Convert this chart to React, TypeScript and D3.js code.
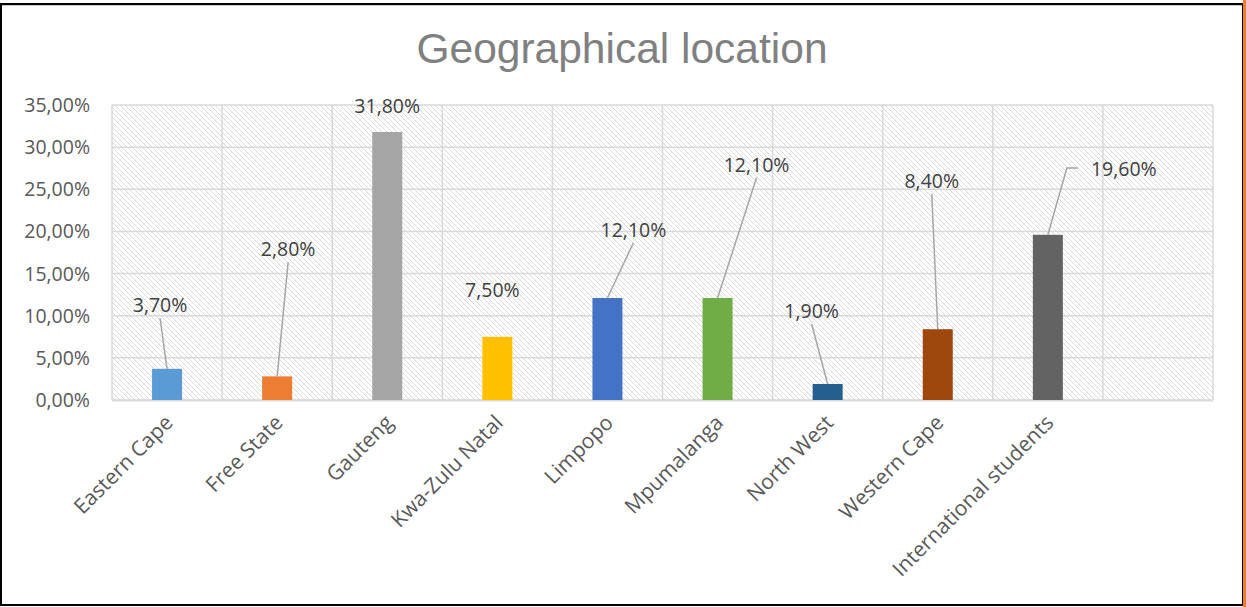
import React from "react";
import * as d3 from "d3";

const categories = [
  "Eastern Cape",
  "Free State",
  "Gauteng",
  "Kwa-Zulu Natal",
  "Limpopo",
  "Mpumalanga",
  "North West",
  "Western Cape",
  "International students",
  "",
];
const values = [3.7, 2.8, 31.8, 7.5, 12.1, 12.1, 1.9, 8.4, 19.6, null];
const valueLabels = ["3,70%", "2,80%", "31,80%", "7,50%", "12,10%", "12,10%", "1,90%", "8,40%", "19,60%", ""];
const yTicks = [0, 5, 10, 15, 20, 25, 30, 35];
const yTickLabels = ["0,00%", "5,00%", "10,00%", "15,00%", "20,00%", "25,00%", "30,00%", "35,00%"];
const barColors = ["#5B9BD5", "#ED7D31", "#A5A5A5", "#FFC000", "#4472C4", "#70AD47", "#255E91", "#9E480E", "#636363", "#999"];
const title = "Geographical location";

// label layout: position (value units) and x offset (px), leader style
const labelPosValue = [11.27, 17.9, 34.9, 13.05, 20.2, 27.9, 10.56, 26.0, 27.4];
const labelDx = [-7, 11, 0, -5, 26, 39, -16, -6, 76];
const leaderType = ["line", "line", "none", "none", "line", "line", "line", "line", "elbow"];

const W = 1246;
const H = 607;
const M = { left: 112, right: 1213, top: 105, bottom: 400 };
const FONT = "'Open Sans', 'Liberation Sans', sans-serif";
const TITLE_FONT = "'Liberation Sans', Arial, sans-serif";

export default function App() {
  const keys = categories.map((c, i) => c + "#" + i);
  const x = d3.scaleBand<string>().domain(keys).range([M.left, M.right]).padding(0);
  const y = d3.scaleLinear().domain([0, 35]).range([M.bottom, M.top]);
  const bw = 30;
  const cx = (i: number) => (x(keys[i]) as number) + x.bandwidth() / 2;

  return (
    <svg width={W} height={H} style={{ position: "absolute", left: 0, top: 0, display: "block" }}>
      <defs>
        <pattern id="diag" patternUnits="userSpaceOnUse" width="5" height="5">
          <rect width="5" height="5" fill="#ffffff" />
          <path d="M-1,-1 L6,6 M-1,4 L1,6 M4,-1 L6,1" stroke="#d6d6d6" strokeWidth="0.9" />
        </pattern>
      </defs>
      <rect x={0} y={0} width={W} height={H} fill="#fff" />
      {/* outer frame */}
      <rect x={1} y={4} width={1242} height={601} fill="none" stroke="#000" strokeWidth={2} />
      <line x1={2} x2={1242} y1={5.5} y2={5.5} stroke="#c8c8c8" strokeWidth={1} />
      <line x1={1244.5} x2={1244.5} y1={0} y2={H} stroke="#ED7D31" strokeWidth={3} />

      <text x={622} y={63} textAnchor="middle" fontFamily={TITLE_FONT} fontSize={42.5} fill="#808080">
        {title}
      </text>

      {/* plot background */}
      <rect x={M.left} y={M.top} width={M.right - M.left} height={M.bottom - M.top} fill="url(#diag)" />
      {/* horizontal grid */}
      {yTicks.map((t) => (
        <line key={"h" + t} x1={M.left} x2={M.right} y1={y(t)} y2={y(t)} stroke="#d9d9d9" strokeWidth={1.5} />
      ))}
      {/* vertical grid */}
      {keys.map((k, i) => (
        <line key={"v" + i} x1={x(k) as number} x2={x(k) as number} y1={M.top} y2={M.bottom} stroke="#d9d9d9" strokeWidth={1.5} />
      ))}
      <line x1={M.right} x2={M.right} y1={M.top} y2={M.bottom} stroke="#d9d9d9" strokeWidth={1.5} />
      <line x1={M.left} x2={M.right} y1={M.bottom + 0.5} y2={M.bottom + 0.5} stroke="#d9d9d9" strokeWidth={2} />

      {/* y ticks */}
      {yTicks.map((t, i) => (
        <text key={"yt" + t} x={90} y={y(t) + 7} textAnchor="end" fontFamily={FONT} fontSize={19.5} fill="#595959">
          {yTickLabels[i]}
        </text>
      ))}

      {/* bars */}
      {values.map((v, i) =>
        v == null ? null : (
          <rect key={"b" + i} x={cx(i) - bw / 2} y={y(v)} width={bw} height={y(0) - y(v)} fill={barColors[i]} />
        )
      )}

      {/* leaders */}
      {values.map((v, i) => {
        if (v == null) return null;
        const lt = leaderType[i];
        const lx = cx(i) + labelDx[i];
        const ly = y(labelPosValue[i]);
        if (lt === "line") {
          return <line key={"l" + i} x1={lx} y1={ly + 13} x2={cx(i)} y2={y(v)} stroke="#a6a6a6" strokeWidth={1.5} />;
        }
        if (lt === "elbow") {
          return (
            <polyline key={"l" + i} points={`${lx - 46},${ly - 1} ${lx - 57},${ly - 1} ${cx(i)},${y(v)}`} fill="none" stroke="#a6a6a6" strokeWidth={1.5} />
          );
        }
        return null;
      })}

      {/* labels */}
      {values.map((v, i) =>
        v == null ? null : (
          <text key={"t" + i} x={cx(i) + labelDx[i]} y={y(labelPosValue[i]) + 7} textAnchor="middle" fontFamily={FONT} fontSize={19.5} fill="#404040">
            {valueLabels[i]}
          </text>
        )
      )}

      {/* x labels */}
      {categories.map((c, i) =>
        c ? (
          <text key={"x" + i} transform={`translate(${cx(i) + 7},${M.bottom + 24}) rotate(-45)`} textAnchor="end" fontFamily={FONT} fontSize={21} fill="#595959">
            {c}
          </text>
        ) : null
      )}
    </svg>
  );
}
